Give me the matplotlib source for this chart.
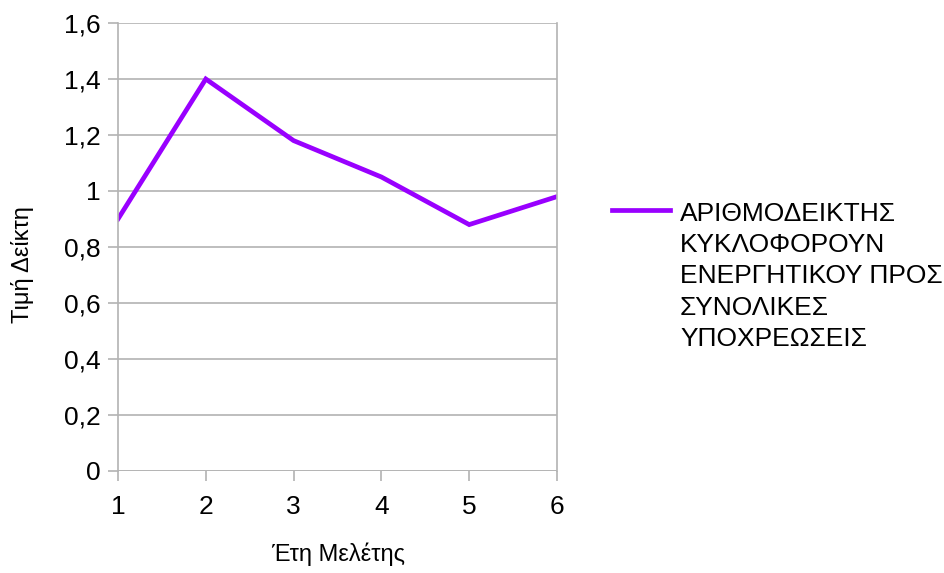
import matplotlib
matplotlib.use("Agg")
import matplotlib.pyplot as plt
from matplotlib.lines import Line2D
from matplotlib.ticker import FuncFormatter

plt.rcParams['font.family'] = ['Liberation Sans', 'DejaVu Sans']

years = [1, 2, 3, 4, 5, 6]
values = [0.90, 1.40, 1.18, 1.05, 0.88, 0.98]
series_label = "ΑΡΙΘΜΟΔΕΙΚΤΗΣ\nΚΥΚΛΟΦΟΡΟΥΝ\nΕΝΕΡΓΗΤΙΚΟΥ ΠΡΟΣ\nΣΥΝΟΛΙΚΕΣ\nΥΠΟΧΡΕΩΣΕΙΣ"
x_title = "Έτη Μελέτης"
y_title = "Τιμή Δείκτη"
y_ticks = [0, 0.2, 0.4, 0.6, 0.8, 1.0, 1.2, 1.4, 1.6]

color = '#9900ff'
grid_c = '#b3b3b3'

fig = plt.figure(figsize=(9.44, 5.73), dpi=100)
ax = fig.add_axes([118/944, 102/573, (557-118)/944, (471-23)/573])

ax.plot(years, values, color=color, linewidth=3.4, solid_joinstyle='miter')
ax.set_xlim(1, 6)
ax.set_ylim(0, 1.6)
ax.set_xticks(years)
ax.set_yticks(y_ticks)

def fmt(v, pos):
    s = ('%.1f' % v).rstrip('0').rstrip('.')
    return s.replace('.', ',')

ax.yaxis.set_major_formatter(FuncFormatter(fmt))
ax.grid(axis='y', color=grid_c, linewidth=1.2)
ax.set_axisbelow(True)
for side in ['top', 'bottom']:
    ax.spines[side].set_visible(False)
ax.spines['left'].set_color(grid_c)
ax.spines['right'].set_color(grid_c)
ax.spines['left'].set_linewidth(1.2)
ax.spines['right'].set_linewidth(1.2)
ax.axhline(0, color=grid_c, linewidth=1.2, zorder=0)

ax.tick_params(axis='y', length=7.5, width=1.2, color=grid_c, pad=5, labelsize=19)
ax.tick_params(axis='x', length=7.5, width=1.2, color=grid_c, pad=10, labelsize=19)
ax.tick_params(axis='y', which='both', right=False)

fig.text(338/944, 1 - 554/573, x_title, ha='center', va='center', fontsize=17)
fig.text(22/944, 1 - 265/573, y_title, ha='center', va='center', rotation=90, fontsize=17)

# legend
ly = 1 - 210/573
fig.add_artist(Line2D([612/944, 670/944], [ly, ly], color=color, linewidth=3.4))
fig.text(680/944, 1 - 202/573, series_label, ha='left', va='top', fontsize=19,
         linespacing=1.38)

fig.savefig('out.png', dpi=100)
